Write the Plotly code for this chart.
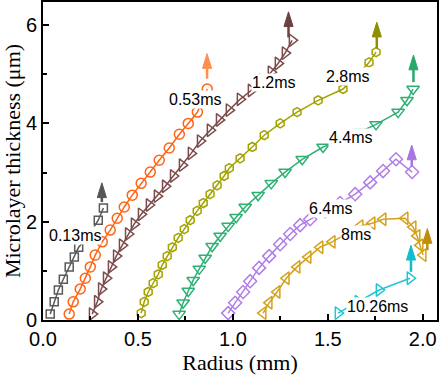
import plotly.graph_objects as go

# ---------------- data ----------------
labels = ["0.13ms", "0.53ms", "1.2ms", "2.8ms", "4.4ms", "6.4ms", "8ms", "10.26ms"]

x_013 = [0.038, 0.059, 0.081, 0.107, 0.138, 0.165, 0.188, 0.240, 0.291, 0.318]
y_013 = [0.12, 0.37, 0.61, 0.83, 1.08, 1.28, 1.48, 1.72, 2.03, 2.28]

x_053 = [0.138, 0.159, 0.196, 0.223, 0.249, 0.275, 0.312, 0.354, 0.391, 0.428,
         0.470, 0.517, 0.565, 0.612, 0.665, 0.718, 0.765, 0.813, 0.838, 0.865]
y_053 = [0.12, 0.37, 0.63, 0.85, 1.08, 1.32, 1.59, 1.83, 2.07, 2.30,
         2.54, 2.78, 3.01, 3.25, 3.50, 3.78, 4.00, 4.23, 4.45, 4.70]

x_12 = [0.259, 0.286, 0.307, 0.333, 0.359, 0.386, 0.417, 0.449, 0.480, 0.517,
        0.559, 0.601, 0.644, 0.686, 0.733, 0.780, 0.828, 0.880, 0.928, 0.980,
        1.038, 1.096, 1.154, 1.201, 1.238, 1.275, 1.312]
y_12 = [0.12, 0.37, 0.63, 0.85, 1.08, 1.30, 1.52, 1.75, 1.95, 2.15,
        2.34, 2.52, 2.72, 2.93, 3.15, 3.39, 3.64, 3.86, 4.07, 4.27,
        4.49, 4.67, 4.88, 5.04, 5.22, 5.43, 5.69]

x_28 = [0.517, 0.533, 0.554, 0.580, 0.607, 0.628, 0.654, 0.681, 0.712, 0.744,
        0.775, 0.812, 0.844, 0.880, 0.917, 0.954, 0.981, 1.038, 1.102, 1.165,
        1.249, 1.338, 1.449, 1.580, 1.654, 1.717, 1.754]
y_28 = [0.14, 0.37, 0.57, 0.75, 0.93, 1.12, 1.30, 1.48, 1.67, 1.85,
        2.03, 2.22, 2.38, 2.56, 2.74, 2.93, 3.09, 3.29, 3.52, 3.76,
        4.00, 4.23, 4.47, 4.70, 4.98, 5.24, 5.45]

x_44 = [0.717, 0.738, 0.765, 0.791, 0.823, 0.854, 0.891, 0.933, 0.975, 1.017,
        1.065, 1.133, 1.202, 1.275, 1.365, 1.475, 1.570, 1.665, 1.754, 1.870,
        1.917, 1.949]
y_44 = [0.12, 0.35, 0.59, 0.81, 1.04, 1.26, 1.50, 1.71, 1.91, 2.09,
        2.30, 2.54, 2.78, 3.01, 3.27, 3.52, 3.66, 3.82, 3.98, 4.23,
        4.47, 4.70]

x_64 = [0.975, 1.012, 1.054, 1.091, 1.138, 1.191, 1.249, 1.302, 1.354, 1.407,
        1.486, 1.565, 1.644, 1.723, 1.791, 1.859, 1.944]
y_64 = [0.14, 0.35, 0.57, 0.79, 1.06, 1.30, 1.54, 1.75, 1.93, 2.05,
        2.22, 2.38, 2.56, 2.80, 3.03, 3.27, 3.01]

x_8 = [1.159, 1.191, 1.233, 1.281, 1.338, 1.396, 1.459, 1.523, 1.602, 1.670,
       1.733, 1.791, 1.907, 1.949, 1.970, 1.986, 2.002]
y_8 = [0.14, 0.35, 0.57, 0.85, 1.08, 1.28, 1.48, 1.59, 1.77, 1.91,
       1.97, 2.05, 2.07, 1.89, 1.71, 1.52, 1.32]

x_1026 = [1.554, 1.659, 1.770, 1.933]
y_1026 = [0.14, 0.37, 0.61, 0.85]

# arrows: x position, base y, tip y
arrow_x = [0.310, 0.864, 1.293, 1.758, 1.951, 1.942, 2.024, 1.938]
arrow_y0 = [2.40, 4.91, 5.75, 5.52, 4.84, 3.12, 1.42, 0.98]
arrow_y1 = [2.79, 5.42, 6.27, 6.06, 5.39, 3.56, 1.86, 1.52]

# label positions (text centres)
label_x = [0.170, 0.799, 1.214, 1.608, 1.622, 1.516, 1.648, 1.762]
label_y = [1.71, 4.49, 4.84, 4.95, 3.71, 2.27, 1.74, 0.28]

# ---------------- style ----------------
series = [
    (x_013, y_013, "square-open", "#5a5a5a", "#555555", 8),
    (x_053, y_053, "circle-open", "#ff6414", "#ff8f4f", 10),
    (x_12, y_12, "triangle-right-open", "#7c4c4c", "#6b4242", 11),
    (x_28, y_28, "hexagon-open", "#a2a200", "#8e8e00", 9),
    (x_44, y_44, "triangle-down-open", "#2fb074", "#2aa86c", 11),
    (x_64, y_64, "diamond-open", "#b07ee8", "#a875e2", 10),
    (x_8, y_8, "triangle-left-open", "#d4a11c", "#c08c0c", 11),
    (x_1026, y_1026, "triangle-right-open", "#1ec6d4", "#13bccb", 11),
]

fig = go.Figure()

for xs, ys, sym, col, acol, msz in series:
    fig.add_trace(go.Scatter(
        x=xs, y=ys, mode="lines+markers",
        line=dict(color=col, width=1.5),
        marker=dict(symbol=sym, size=msz, color=col, line=dict(width=1.5, color=col)),
        showlegend=False, hoverinfo="skip", cliponaxis=False,
    ))

head_h = 0.30   # arrow head height (data units)
head_hw = 0.024  # arrow head half width (data units)
for i, (xs, ys, sym, col, acol, msz) in enumerate(series):
    ax = arrow_x[i]
    y0 = arrow_y0[i]
    y1 = arrow_y1[i]
    fig.add_trace(go.Scatter(
        x=[ax, ax], y=[y0, y1 - head_h + 0.02], mode="lines",
        line=dict(color=acol, width=2.5), showlegend=False, hoverinfo="skip"))
    fig.add_trace(go.Scatter(
        x=[ax - head_hw, ax + head_hw, ax, ax - head_hw],
        y=[y1 - head_h, y1 - head_h, y1, y1 - head_h],
        mode="lines", fill="toself", fillcolor=acol,
        line=dict(color=acol, width=1), showlegend=False, hoverinfo="skip"))

for i, lab in enumerate(labels):
    fig.add_annotation(
        x=label_x[i], y=label_y[i], xref="x", yref="y", text=lab,
        showarrow=False, bgcolor="white", borderpad=0,
        font=dict(family="Liberation Sans, Arial, sans-serif", size=16, color="black"),
    )

axis_common = dict(
    showline=True, linewidth=2, linecolor="black", mirror=True,
    ticks="inside", ticklen=6, tickwidth=2, tickcolor="black",
    showgrid=False, zeroline=False, automargin=False,
    tickfont=dict(family="Liberation Sans, Arial, sans-serif", size=20, color="black"),
)

fig.update_layout(
    width=443, height=375,
    margin=dict(l=43, r=6, t=2, b=55),
    paper_bgcolor="white", plot_bgcolor="white",
    showlegend=False,
    xaxis=dict(
        range=[0, 2.075], tickvals=[0, 0.5, 1.0, 1.5, 2.0], tickformat=".1f",
        minor=dict(ticks="inside", ticklen=4, tickwidth=1.5, tickcolor="black", dtick=0.25, tick0=0),
        title=dict(text="Radius (mm)", standoff=6,
                   font=dict(family="Liberation Serif, Times New Roman, serif", size=22, color="black")),
        **axis_common,
    ),
    yaxis=dict(
        range=[0, 6.47], tickvals=[0, 2, 4, 6],
        minor=dict(ticks="inside", ticklen=4, tickwidth=1.5, tickcolor="black", dtick=1, tick0=0),
        title=dict(text="Microlayer thickness (μm)", standoff=4,
                   font=dict(family="Liberation Serif, Times New Roman, serif", size=22, color="black")),
        **axis_common,
    ),
)

fig.write_html("out.html",
               config={"displayModeBar": False},
               post_script="document.body.style.margin='0';document.body.style.padding='0';")
